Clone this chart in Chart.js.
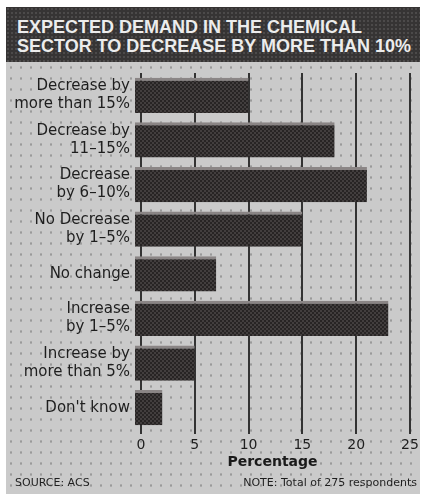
<!DOCTYPE html>
<html lang="en">
<head>
  <meta charset="UTF-8" />
  <title>Expected demand in the chemical sector</title>
  <script src="https://cdn.jsdelivr.net/npm/chart.js"></script>
  <style>
    html, body {
      margin: 0;
      padding: 0;
      background: #fff;
    }

    .frame {
      position: relative;
      width: 424px;
      height: 494px;
      overflow: hidden;
    }

    .panel {
      position: absolute;
      left: 6px;
      top: 62px;
      width: 414px;
      height: 432px;
      background-color: #cacaca;
      background-image: radial-gradient(circle, #9a9a9a 0.9px, transparent 1.5px);
      background-size: 10px 11px;
    }

    .title {
      position: absolute;
      left: 6px;
      top: 7px;
      width: 403px;
      height: 44px;
      padding: 11px 0 0 11px;
      background-color: #363434;
      background-image: radial-gradient(circle, #4c4a4a 0.8px, transparent 1.2px);
      background-size: 4px 4px;
      color: #ececec;
      font: bold 18px/19px "Liberation Sans", Arial, sans-serif;
      white-space: nowrap;
    }

    canvas {
      position: absolute;
      left: 0;
      top: 0;
    }

    .source, .note {
      position: absolute;
      top: 476px;
      color: #1e1e1e;
      font: 11px/13px "DejaVu Sans", sans-serif;
      white-space: nowrap;
    }

    .source { left: 15px; }
    .note { right: 7px; }
  </style>
</head>
<body>
  <div class="frame">
    <div class="panel"></div>
    <div class="title">EXPECTED DEMAND IN THE CHEMICAL<br>SECTOR TO DECREASE BY MORE THAN 10%</div>
    <canvas id="chart" width="424" height="494"></canvas>
    <div class="source">SOURCE: ACS</div>
    <div class="note">NOTE: Total of 275 respondents</div>
  </div>

  <script>
    const categories = [
      ['Decrease by', 'more than 15%'],
      ['Decrease by', '11–15%'],
      ['Decrease', 'by 6–10%'],
      ['No Decrease', 'by 1–5%'],
      'No change',
      ['Increase', 'by 1–5%'],
      ['Increase by', 'more than 5%'],
      "Don't know"
    ];
    const percentages = [10, 18, 21, 15, 7, 23, 5, 2];
    const xTicks = [0, 5, 10, 15, 20, 25];

    const ctx = document.getElementById('chart').getContext('2d');

    // dark cross-hatch fill for the bars
    const tile = document.createElement('canvas');
    tile.width = 4;
    tile.height = 4;
    const t = tile.getContext('2d');
    t.fillStyle = '#423e3e';
    t.fillRect(0, 0, 4, 4);
    t.fillStyle = '#272424';
    t.fillRect(0, 0, 2, 2);
    t.fillRect(2, 2, 2, 2);
    const barFill = ctx.createPattern(tile, 'repeat');

    Chart.defaults.font.family = '"DejaVu Sans", sans-serif';

    new Chart(ctx, {
      type: 'bar',
      data: {
        labels: categories,
        datasets: [{
          data: percentages,
          backgroundColor: barFill,
          borderColor: '#8a8585',
          borderWidth: { top: 3, right: 0, bottom: 0, left: 0 },
          borderSkipped: false,
          base: -0.55,
          categoryPercentage: 1,
          barPercentage: 0.79
        }]
      },
      options: {
        indexAxis: 'y',
        responsive: false,
        animation: false,
        events: [],
        layout: {
          padding: { top: 73, right: 14, bottom: 0, left: 0 }
        },
        plugins: {
          legend: { display: false },
          tooltip: { enabled: false }
        },
        scales: {
          x: {
            min: -0.55,
            max: 25,
            afterBuildTicks: (scale) => {
              scale.ticks = xTicks.map(v => ({ value: v }));
            },
            afterFit: (scale) => {
              scale.height = 64;
              scale.paddingLeft = 0;
              scale.paddingRight = 0;
            },
            border: { display: false },
            grid: {
              color: '#333',
              lineWidth: 2,
              tickLength: 4
            },
            ticks: {
              color: '#1e1e1e',
              font: { size: 14 },
              padding: 3,
              maxRotation: 0
            },
            title: {
              display: true,
              text: 'Percentage',
              color: '#1a1a1a',
              font: { size: 14, weight: 'bold' },
              padding: { top: 0, bottom: 23 }
            }
          },
          y: {
            afterFit: (scale) => {
              scale.width = 135;
              scale.paddingTop = 0;
              scale.paddingBottom = 0;
            },
            border: { display: false },
            grid: { display: false, drawTicks: false },
            ticks: {
              color: '#1e1e1e',
              font: { size: 15, lineHeight: 1.2 },
              padding: 5,
              autoSkip: false
            }
          }
        }
      }
    });
  </script>
</body>
</html>
